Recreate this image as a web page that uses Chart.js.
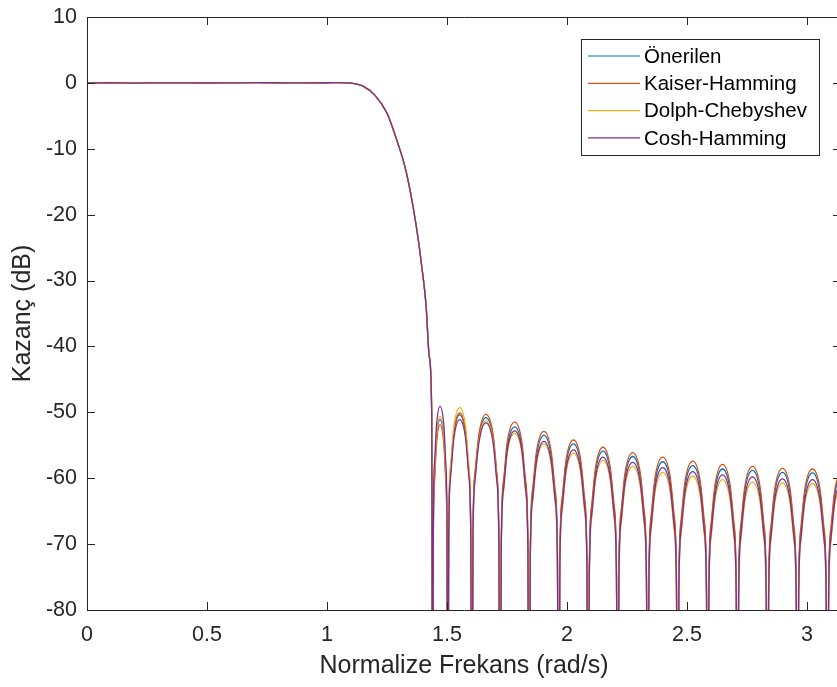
<!DOCTYPE html>
<html>
<head>
<meta charset="utf-8">
<script src="https://cdn.jsdelivr.net/npm/chart.js@4.4.1/dist/chart.umd.min.js"></script>
<style>
  html, body { margin: 0; padding: 0; background: #fff; overflow: hidden; }
  #wrap { width: 837px; height: 687px; overflow: hidden; }
  canvas { display: block; }
</style>
</head>
<body>
<div id="wrap"><canvas id="myChart" width="860" height="687"></canvas></div>
<script>
// frequency axis (rad/s), shared by all four responses
const freq = [
  0, 0.1, 0.2, 0.3, 0.4, 0.5, 0.6, 0.7, 0.8, 0.9, 1.0, 1.05, 1.1, 1.15, 1.2, 1.25, 1.29, 1.33, 1.37, 1.395, 1.413, 1.426, 1.436,
  1.441, 1.443, 1.448, 1.456, 1.471, 1.487, 1.495, 1.500,
  1.503, 1.507, 1.515, 1.528, 1.553, 1.578, 1.591, 1.599,
  1.603, 1.608, 1.617, 1.633, 1.662, 1.692, 1.707, 1.716,
  1.721, 1.726, 1.736, 1.751, 1.782, 1.812, 1.827, 1.837,
  1.842, 1.847, 1.857, 1.873, 1.904, 1.934, 1.950, 1.960,
  1.965, 1.970, 1.980, 1.996, 2.027, 2.057, 2.073, 2.083,
  2.088, 2.093, 2.103, 2.119, 2.150, 2.180, 2.196, 2.206,
  2.211, 2.216, 2.226, 2.242, 2.274, 2.305, 2.321, 2.331,
  2.336, 2.341, 2.351, 2.367, 2.399, 2.430, 2.446, 2.456,
  2.461, 2.466, 2.476, 2.492, 2.524, 2.555, 2.571, 2.581,
  2.586, 2.591, 2.601, 2.617, 2.648, 2.679, 2.695, 2.705,
  2.710, 2.715, 2.725, 2.741, 2.773, 2.804, 2.820, 2.830,
  2.835, 2.840, 2.850, 2.866, 2.898, 2.929, 2.945, 2.955,
  2.960, 2.965, 2.975, 2.991, 3.023, 3.054, 3.070, 3.080,
  3.085, 3.090, 3.100, 3.116, 3.1416
];

// passband + transition, the four curves overlap here
const passband = [
  0, 0.02, -0.03, 0.01, 0, -0.02, 0.01, 0.03, 0.02, 0, 0.02, 0.05, -0.05, -0.5, -1.9, -4.6, -8.6, -13.5, -21.3, -27.9, -33.9, -41.5, -49.5
];

// stopband lobes (dB), one row per lobe
const onerilenStop = [
  -120, -69.1, -59.8, -54.1, -51.1, -54.1, -59.8, -69.1,
  -120, -68.4, -59.1, -53.4, -50.4, -53.4, -59.1, -68.4,
  -120, -68.8, -59.5, -53.8, -50.8, -53.8, -59.5, -68.8,
  -120, -70.2, -60.9, -55.2, -52.2, -55.2, -60.9, -70.2,
  -120, -71.5, -62.2, -56.5, -53.5, -56.5, -62.2, -71.5,
  -120, -72.8, -63.5, -57.8, -54.8, -57.8, -63.5, -72.8,
  -120, -73.9, -64.6, -58.9, -55.9, -58.9, -64.6, -73.9,
  -120, -74.7, -65.4, -59.7, -56.7, -59.7, -65.4, -74.7,
  -120, -75.5, -66.2, -60.5, -57.5, -60.5, -66.2, -75.5,
  -120, -76.1, -66.8, -61.1, -58.1, -61.1, -66.8, -76.1,
  -120, -76.6, -67.3, -61.6, -58.6, -61.6, -67.3, -76.6,
  -120, -76.8, -67.5, -61.8, -58.8, -61.8, -67.5, -76.8,
  -120, -77.1, -67.8, -62.1, -59.1, -62.1, -67.8, -77.1,
  -120, -77.2, -67.9, -62.2, -59.2, -62.2, -67.9, -77.2,
  -120, -77.3, -68.0, -62.3, -59.4
];
const kaiserStop = [
  -120, -69.9, -60.6, -54.9, -51.9, -54.9, -60.6, -69.9,
  -120, -68.1, -58.8, -53.1, -50.1, -53.1, -58.8, -68.1,
  -120, -68.3, -59.0, -53.3, -50.3, -53.3, -59.0, -68.3,
  -120, -69.5, -60.2, -54.5, -51.5, -54.5, -60.2, -69.5,
  -120, -70.9, -61.6, -55.9, -52.9, -55.9, -61.6, -70.9,
  -120, -72.2, -62.9, -57.2, -54.2, -57.2, -62.9, -72.2,
  -120, -73.3, -64.0, -58.3, -55.3, -58.3, -64.0, -73.3,
  -120, -74.1, -64.8, -59.1, -56.1, -59.1, -64.8, -74.1,
  -120, -74.8, -65.5, -59.8, -56.8, -59.8, -65.5, -74.8,
  -120, -75.4, -66.1, -60.4, -57.4, -60.4, -66.1, -75.4,
  -120, -75.9, -66.6, -60.9, -57.9, -60.9, -66.6, -75.9,
  -120, -76.2, -66.9, -61.2, -58.2, -61.2, -66.9, -76.2,
  -120, -76.5, -67.2, -61.5, -58.5, -61.5, -67.2, -76.5,
  -120, -76.6, -67.3, -61.6, -58.6, -61.6, -67.3, -76.6,
  -120, -76.7, -67.4, -61.7, -58.8
];
const dolphStop = [
  -120, -68.6, -59.3, -53.6, -50.6, -53.6, -59.3, -68.6,
  -120, -67.3, -58.0, -52.3, -49.3, -52.3, -58.0, -67.3,
  -120, -69.3, -60.0, -54.3, -51.3, -54.3, -60.0, -69.3,
  -120, -71.2, -61.9, -56.2, -53.2, -56.2, -61.9, -71.2,
  -120, -72.8, -63.5, -57.8, -54.8, -57.8, -63.5, -72.8,
  -120, -74.2, -64.9, -59.2, -56.2, -59.2, -64.9, -74.2,
  -120, -75.3, -66.0, -60.3, -57.3, -60.3, -66.0, -75.3,
  -120, -76.2, -66.9, -61.2, -58.2, -61.2, -66.9, -76.2,
  -120, -77.1, -67.8, -62.1, -59.1, -62.1, -67.8, -77.1,
  -120, -77.7, -68.4, -62.7, -59.7, -62.7, -68.4, -77.7,
  -120, -78.2, -68.9, -63.2, -60.2, -63.2, -68.9, -78.2,
  -120, -78.6, -69.3, -63.6, -60.6, -63.6, -69.3, -78.6,
  -120, -78.7, -69.4, -63.7, -60.7, -63.7, -69.4, -78.7,
  -120, -78.8, -69.5, -63.8, -60.8, -63.8, -69.5, -78.8,
  -120, -78.9, -69.6, -63.9, -61.0
];
const coshStop = [
  -120, -67.1, -57.8, -52.1, -49.1, -52.1, -57.8, -67.1,
  -120, -69.1, -59.8, -54.1, -51.1, -54.1, -59.8, -69.1,
  -120, -69.6, -60.3, -54.6, -51.6, -54.6, -60.3, -69.6,
  -120, -70.8, -61.5, -55.8, -52.8, -55.8, -61.5, -70.8,
  -120, -72.4, -63.1, -57.4, -54.4, -57.4, -63.1, -72.4,
  -120, -73.7, -64.4, -58.7, -55.7, -58.7, -64.4, -73.7,
  -120, -74.8, -65.5, -59.8, -56.8, -59.8, -65.5, -74.8,
  -120, -75.6, -66.3, -60.6, -57.6, -60.6, -66.3, -75.6,
  -120, -76.4, -67.1, -61.4, -58.4, -61.4, -67.1, -76.4,
  -120, -77.0, -67.7, -62.0, -59.0, -62.0, -67.7, -77.0,
  -120, -77.5, -68.2, -62.5, -59.5, -62.5, -68.2, -77.5,
  -120, -77.8, -68.5, -62.8, -59.8, -62.8, -68.5, -77.8,
  -120, -78.1, -68.8, -63.1, -60.1, -63.1, -68.8, -78.1,
  -120, -78.2, -68.9, -63.2, -60.2, -63.2, -68.9, -78.2,
  -120, -78.3, -69.0, -63.3, -60.4
];

const seriesNames = ['Önerilen', 'Kaiser-Hamming', 'Dolph-Chebyshev', 'Cosh-Hamming'];
const seriesColors = ['#0072BD', '#D95319', '#EDB120', '#7E2F8E'];
const xTicks = [0, 0.5, 1, 1.5, 2, 2.5, 3];
const yTicks = [-80, -70, -60, -50, -40, -30, -20, -10, 0, 10];

const axisColor = '#262626';
const fontFam = '"Liberation Sans", Arial, Helvetica, sans-serif';

function toPoints(stop) {
    const ys = passband.concat(stop);
    return freq.map((f, i) => ({ x: f, y: ys[i] }));
}

// MATLAB style box with inward ticks + legend
const matlabBox = {
    id: 'matlabBox',
    afterDraw(chart) {
        const ctx = chart.ctx;
        const a = chart.chartArea;
        const xs = chart.scales.x, ys = chart.scales.y;
        const tl = 8;
        ctx.save();
        ctx.strokeStyle = axisColor;
        ctx.lineWidth = 1;
        ctx.beginPath();
        ctx.rect(Math.round(a.left) + 0.5, Math.round(a.top) + 0.5, Math.round(a.right - a.left), Math.round(a.bottom - a.top));
        xTicks.forEach(v => {
            const px = Math.round(xs.getPixelForValue(v)) + 0.5;
            ctx.moveTo(px, a.bottom); ctx.lineTo(px, a.bottom - tl);
            ctx.moveTo(px, a.top); ctx.lineTo(px, a.top + tl);
        });
        yTicks.forEach(v => {
            const py = Math.round(ys.getPixelForValue(v)) + 0.5;
            ctx.moveTo(a.left, py); ctx.lineTo(a.left + tl, py);
            ctx.moveTo(a.right, py); ctx.lineTo(a.right - tl, py);
        });
        ctx.stroke();

        // legend
        const bx = 581.5, by = 39.5, bw = 238, bh = 116;
        ctx.fillStyle = '#fff';
        ctx.fillRect(bx, by, bw, bh);
        ctx.strokeStyle = axisColor;
        ctx.strokeRect(bx, by, bw, bh);
        ctx.font = '20.5px ' + fontFam;
        ctx.textBaseline = 'middle';
        ctx.textAlign = 'left';
        seriesNames.forEach((name, i) => {
            const y = 56 + i * 27.3;
            ctx.strokeStyle = seriesColors[i];
            ctx.lineWidth = 1.2;
            ctx.beginPath();
            ctx.moveTo(588, y); ctx.lineTo(640, y);
            ctx.stroke();
            ctx.fillStyle = '#000';
            ctx.fillText(name, 644, y + 1);
        });
        ctx.restore();
    }
};

const ctx = document.getElementById('myChart').getContext('2d');
new Chart(ctx, {
    type: 'line',
    data: {
        datasets: [
            { label: seriesNames[0], data: toPoints(onerilenStop), borderColor: seriesColors[0], order: 3 },
            { label: seriesNames[1], data: toPoints(kaiserStop), borderColor: seriesColors[1], order: 2 },
            { label: seriesNames[2], data: toPoints(dolphStop), borderColor: seriesColors[2], order: 1 },
            { label: seriesNames[3], data: toPoints(coshStop), borderColor: seriesColors[3], order: 0 }
        ]
    },
    options: {
        responsive: false,
        animation: false,
        devicePixelRatio: 1,
        layout: { padding: { top: 17, right: 19, left: 0, bottom: 0 } },
        elements: {
            point: { radius: 0 },
            line: { borderWidth: 1.3, cubicInterpolationMode: 'monotone', fill: false }
        },
        plugins: {
            legend: { display: false },
            tooltip: { enabled: false }
        },
        scales: {
            x: {
                type: 'linear',
                min: 0,
                max: 3.1416,
                afterBuildTicks: s => { s.ticks = xTicks.map(v => ({ value: v })); },
                afterFit: s => { s.height = 77; s.paddingLeft = 0; s.paddingRight = 0; },
                grid: { display: false, drawTicks: false },
                border: { display: false },
                ticks: {
                    color: axisColor,
                    padding: 12,
                    maxRotation: 0,
                    font: { family: fontFam, size: 21.5 },
                    callback: v => String(v)
                },
                title: {
                    display: true,
                    text: 'Normalize Frekans (rad/s)',
                    color: axisColor,
                    font: { family: fontFam, size: 25 },
                    padding: { top: 0, bottom: 6 }
                }
            },
            y: {
                type: 'linear',
                min: -80,
                max: 10,
                afterBuildTicks: s => { s.ticks = yTicks.map(v => ({ value: v })); },
                afterFit: s => { s.width = 87; s.paddingTop = 0; s.paddingBottom = 0; },
                grid: { display: false, drawTicks: false },
                border: { display: false },
                ticks: {
                    color: axisColor,
                    padding: 10,
                    font: { family: fontFam, size: 21.5 },
                    callback: v => String(v)
                },
                title: {
                    display: true,
                    text: 'Kazanç (dB)',
                    color: axisColor,
                    font: { family: fontFam, size: 25 },
                    padding: { top: 8, bottom: 0 }
                }
            }
        }
    },
    plugins: [matlabBox]
});
</script>
</body>
</html>
